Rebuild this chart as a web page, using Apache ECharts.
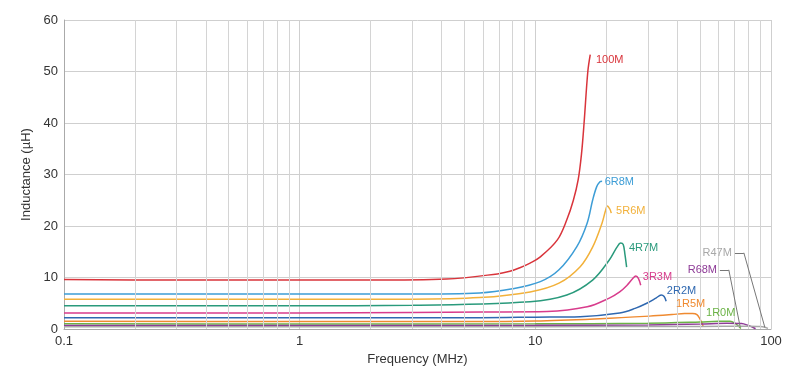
<!DOCTYPE html>
<html>
<head>
<meta charset="utf-8">
<script src="https://cdn.jsdelivr.net/npm/echarts@6/dist/echarts.min.js"></script>
<style>
  html, body { margin: 0; padding: 0; background: #fff; }
  #chart { width: 788px; height: 377px; }
</style>
</head>
<body>
<div id="chart"></div>
<script>
// frequency (MHz) / inductance (uH)
const f100M = [0.1, 0.3, 1, 2, 4.2, 6.9, 7.8, 8.6, 9.5, 10.5, 12.4, 13.6, 14.5, 15.2, 15.7, 16.1, 16.7, 17.1];
const L100M = [9.6, 9.5, 9.5, 9.5, 9.7, 10.7, 11.2, 11.9, 12.8, 14.0, 17.3, 21.2, 25, 29, 34, 40, 50, 53.3];

const f6R8M = [0.1, 1, 3, 5.8, 8, 10.5, 12.6, 15, 16.6, 17.5, 18.2, 18.8, 19.2];
const L6R8M = [6.8, 6.8, 6.8, 7.0, 7.8, 9.2, 11.5, 16, 20.6, 25, 27.6, 28.6, 28.7];

const f5R6M = [0.1, 1, 3, 5.8, 9.5, 12.6, 15.5, 17.5, 19.2, 19.8, 20.2, 20.7, 21.0];
const L5R6M = [5.8, 5.8, 5.8, 6.1, 7.2, 8.9, 12.1, 15.9, 20.6, 22.8, 23.9, 23.3, 22.5];

const f4R7M = [0.1, 1, 3, 9.5, 13.6, 17.5, 20.6, 22.2, 23.0, 23.6, 24.0, 24.4];
const L4R7M = [4.5, 4.5, 4.6, 5.3, 6.6, 9.5, 13.4, 15.9, 16.7, 16.4, 14.5, 12.0];

const f3R3M = [0.1, 1, 3, 6, 11.2, 16.6, 20.6, 22.8, 24.5, 25.8, 26.7, 27.4, 28.0];
const L3R3M = [3.1, 3.1, 3.2, 3.3, 3.4, 4.3, 6.0, 7.2, 8.5, 9.7, 10.3, 9.8, 8.5];

const f2R2M = [0.1, 1, 5.8, 10, 15.5, 22.8, 26.5, 29.7, 32.5, 34.2, 35.2, 35.9];
const L2R2M = [2.2, 2.2, 2.2, 2.3, 2.4, 3.1, 4.0, 5.0, 6.0, 6.6, 6.3, 5.4];

const f1R5M = [0.1, 1, 5, 10, 18.8, 30.5, 38, 43, 46.5, 48.5, 50, 51.5];
const L1R5M = [1.5, 1.45, 1.45, 1.55, 2.0, 2.5, 2.8, 3.0, 3.0, 2.8, 1.9, 0.6];

const f1R0M = [0.1, 1, 10, 30, 50, 60, 67, 70.5, 73, 74.5];
const L1R0M = [1.0, 0.98, 1.0, 1.1, 1.35, 1.5, 1.5, 1.1, 0.5, 0.1];

const fR68M = [0.1, 1, 10, 30, 50, 65, 75, 80, 84, 86];
const LR68M = [0.7, 0.7, 0.72, 0.8, 0.95, 1.1, 1.05, 0.7, 0.3, 0.05];

const fR47M = [0.1, 1, 10, 50, 80, 90, 95, 97];
const LR47M = [0.45, 0.45, 0.45, 0.5, 0.55, 0.5, 0.3, 0.1];

const xTickLabels = [0.1, 1, 10, 100];
const yTickLabels = [0, 10, 20, 30, 40, 50, 60];
const minorFreqs = [0.2, 0.3, 0.4, 0.5, 0.6, 0.7, 0.8, 0.9,
                    2, 3, 4, 5, 6, 7, 8, 9,
                    20, 30, 40, 50, 60, 70, 80, 90];

// name, freq, values, colour, label anchor [f, L], label side
const curves = [
  ['100M', f100M, L100M, '#d9343b', [17.9, 52.2], 'right'],
  ['6R8M', f6R8M, L6R8M, '#3d9dd6', [19.5, 28.5], 'right'],
  ['5R6M', f5R6M, L5R6M, '#f2b13a', [21.8, 22.9], 'right'],
  ['4R7M', f4R7M, L4R7M, '#2a9a7c', [24.7, 15.7], 'right'],
  ['3R3M', f3R3M, L3R3M, '#d83c8c', [28.3, 10.1], 'right'],
  ['2R2M', f2R2M, L2R2M, '#2f68b0', [35.8, 7.4], 'right'],
  ['1R5M', f1R5M, L1R5M, '#ef8a30', [39.1, 4.9], 'right'],
  ['1R0M', f1R0M, L1R0M, '#6bb346', [52.5, 3.1], 'right'],
  ['R68M', fR68M, LR68M, '#8e3b97', [59.6, 11.5], 'left'],
  ['R47M', fR47M, LR47M, '#a8a8a8', [68.9, 14.8], 'left']
];

const leaders = {
  R68M: [[60.7, 11.5], [66.2, 11.5], [74, 0.4]],
  R47M: [[70.3, 14.8], [76.7, 14.8], [94.2, 0.3]]
};

function zip(xs, ys) {
  return xs.map((x, i) => [x, ys[i]]);
}

function leaderSegments(pts) {
  const segs = [];
  for (let i = 0; i < pts.length - 1; i++) {
    segs.push([{ coord: pts[i] }, { coord: pts[i + 1] }]);
  }
  return segs;
}

const series = [{
  type: 'line',
  data: [],
  silent: true,
  markLine: {
    silent: true,
    symbol: 'none',
    label: { show: false },
    lineStyle: { color: '#d4d4d4', width: 1, type: 'solid' },
    animation: false,
    data: minorFreqs.map(f => ({ xAxis: f }))
  }
}];

curves.forEach(c => {
  const [name, fs, ls, color, anchor, side] = c;
  const s = {
    name: name,
    type: 'line',
    data: zip(fs, ls),
    smooth: 0.35,
    showSymbol: false,
    lineStyle: { color: color, width: 1.5 },
    itemStyle: { color: color },
    markPoint: {
      symbol: 'circle',
      symbolSize: 0,
      silent: true,
      animation: false,
      label: {
        show: true,
        position: side,
        distance: 1,
        formatter: name,
        color: color,
        fontSize: 11,
        fontFamily: 'Liberation Sans, Arial, sans-serif'
      },
      data: [{ coord: anchor }]
    }
  };
  if (leaders[name]) {
    s.markLine = {
      silent: true,
      symbol: 'none',
      animation: false,
      label: { show: false },
      lineStyle: { color: '#777', width: 1, type: 'solid' },
      data: leaderSegments(leaders[name])
    };
  }
  series.push(s);
});

const chart = echarts.init(document.getElementById('chart'));
chart.setOption({
  animation: false,
  textStyle: { fontFamily: 'Liberation Sans, Arial, sans-serif' },
  grid: { left: 64, right: 17, top: 20, bottom: 48 },
  xAxis: {
    type: 'log',
    logBase: 10,
    min: xTickLabels[0],
    max: xTickLabels[xTickLabels.length - 1],
    name: 'Frequency (MHz)',
    nameLocation: 'middle',
    nameGap: 21,
    nameTextStyle: { color: '#333', fontSize: 13 },
    axisLine: { lineStyle: { color: '#aaa' } },
    axisTick: { show: false },
    axisLabel: { color: '#333', fontSize: 13, margin: 6,
      formatter: v => String(+v.toPrecision(3)) },
    splitLine: { show: true, lineStyle: { color: '#cfcfcf' } }
  },
  yAxis: {
    type: 'value',
    min: yTickLabels[0],
    max: yTickLabels[yTickLabels.length - 1],
    interval: 10,
    name: 'Inductance (\u00b5H)',
    nameLocation: 'middle',
    nameGap: 30,
    nameTextStyle: { color: '#333', fontSize: 13 },
    axisLine: { show: true, lineStyle: { color: '#aaa' } },
    axisTick: { show: false },
    axisLabel: { color: '#333', fontSize: 13, margin: 6 },
    splitLine: { show: true, lineStyle: { color: '#cfcfcf' } }
  },
  series: series
});
</script>
</body>
</html>
